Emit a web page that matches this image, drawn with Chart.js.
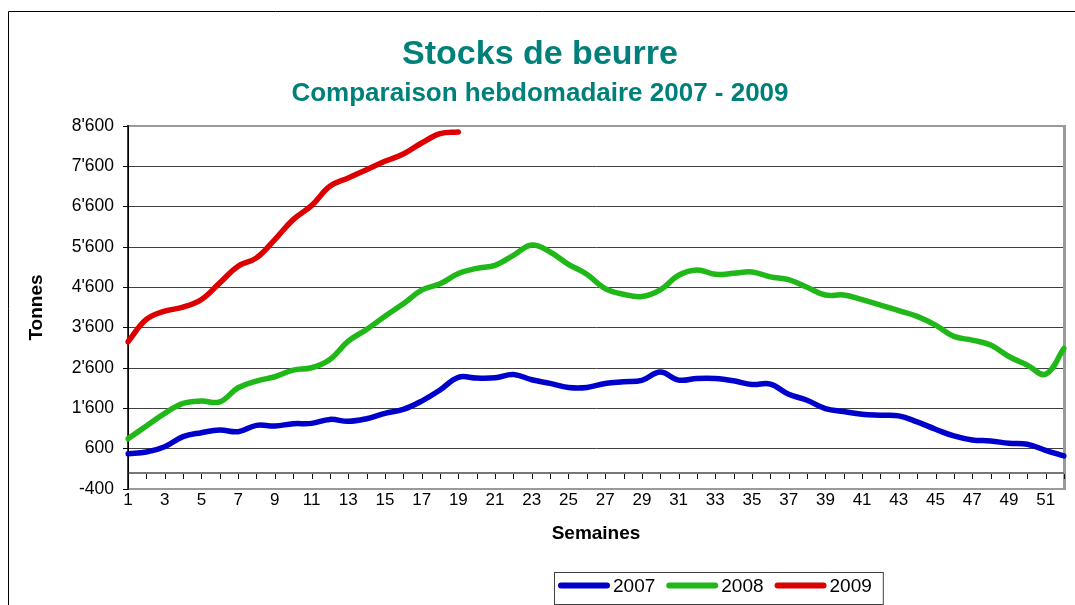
<!DOCTYPE html>
<html>
<head>
<meta charset="utf-8">
<script src="https://cdn.jsdelivr.net/npm/chart.js@4.4.1/dist/chart.umd.min.js"></script>
<style>
  html, body { margin: 0; padding: 0; background: #ffffff; }
  #wrap { width: 1075px; height: 605px; }
</style>
</head>
<body>
<div id="wrap"><canvas id="c" width="1075" height="605"></canvas></div>
<script>
// ---- Data ----
const weeks = ['1','2','3','4','5','6','7','8','9','10','11','12','13','14','15','16','17','18','19','20',
  '21','22','23','24','25','26','27','28','29','30','31','32','33','34','35','36','37','38','39','40',
  '41','42','43','44','45','46','47','48','49','50','51','52'];

const stock2007 = [476, 517, 649, 897, 996, 1062, 1021, 1178, 1161, 1219,
  1227, 1326, 1277, 1343, 1475, 1574, 1780, 2053, 2370, 2350,
  2358, 2440, 2308, 2218, 2119, 2119, 2218, 2259, 2292, 2500,
  2300, 2341, 2341, 2284, 2190, 2200, 1950, 1801, 1594, 1520,
  1454, 1429, 1412, 1263, 1081, 915, 816, 792, 733, 708,
  559, 419];

const stock2008 = [847, 1161, 1475, 1722, 1780, 1760, 2110, 2276, 2383, 2548,
  2606, 2812, 3266, 3555, 3885, 4191, 4529, 4686, 4942, 5070,
  5146, 5394, 5650, 5476, 5171, 4924, 4569, 4429, 4371, 4536,
  4899, 5031, 4924, 4948, 4981, 4860, 4790, 4600, 4410, 4410,
  4294, 4161, 4020, 3880, 3664, 3383, 3292, 3168, 2886, 2671,
  2447, 3085];

const stock2009 = [3250, 3803, 4009, 4108, 4298, 4711, 5123, 5330, 5784, 6279,
  6626, 7105, 7311, 7517, 7724, 7905, 8178, 8409, 8450];

const seriesLabels = ['2007', '2008', '2009'];
const yTickValues = [-400, 600, 1600, 2600, 3600, 4600, 5600, 6600, 7600, 8600];

const titleText = 'Stocks de beurre';
const subtitleText = 'Comparaison hebdomadaire 2007 - 2009';
const xTitle = 'Semaines';
const yTitle = 'Tonnes';

// ---- Styles ----
const FONT = "'Liberation Sans', Arial, Helvetica, sans-serif";
const TEAL = '#00807b';
const COLORS = ['#0000cc', '#20b818', '#dd0000'];

Chart.defaults.font.family = FONT;
Chart.defaults.color = '#000';

function fmtTonnes(v) {
  const neg = v < 0;
  let s = String(Math.abs(Math.round(v)));
  s = s.replace(/\B(?=(\d{3})+(?!\d))/g, "'");
  return (neg ? '-' : '') + s;
}

const bgPlugin = {
  id: 'bg',
  beforeDraw(chart) {
    const ctx = chart.ctx;
    ctx.save();
    ctx.fillStyle = '#ffffff';
    ctx.fillRect(0, 0, chart.width, chart.height);
    ctx.strokeStyle = '#000000';
    ctx.lineWidth = 1;
    ctx.beginPath();
    ctx.moveTo(8.5, chart.height + 2);
    ctx.lineTo(8.5, 11.5);
    ctx.lineTo(chart.width + 2, 11.5);
    ctx.stroke();
    ctx.restore();
  }
};

const axisPlugin = {
  id: 'plotFrame',
  beforeDatasetsDraw(chart) {
    const ctx = chart.ctx;
    const a = chart.chartArea;
    const xs = chart.scales.x, ys = chart.scales.y;
    ctx.save();
    ctx.strokeStyle = '#9a9a9a';
    ctx.lineWidth = 2;
    ctx.beginPath();
    ctx.moveTo(a.left, a.top);
    ctx.lineTo(a.right, a.top);
    ctx.stroke();
    ctx.beginPath();
    ctx.moveTo(a.left, a.bottom);
    ctx.lineTo(a.right, a.bottom);
    ctx.stroke();
    ctx.lineWidth = 3;
    ctx.beginPath();
    ctx.moveTo(a.right + 0.5, a.top - 1);
    ctx.lineTo(a.right + 0.5, a.bottom + 1);
    ctx.stroke();
    const y0 = Math.round(ys.getPixelForValue(0));
    ctx.strokeStyle = '#777777';
    ctx.lineWidth = 2;
    ctx.beginPath();
    ctx.moveTo(a.left, y0);
    ctx.lineTo(a.right, y0);
    ctx.stroke();
    ctx.strokeStyle = '#111111';
    ctx.lineWidth = 1;
    ctx.beginPath();
    for (let i = 0; i < weeks.length; i++) {
      const px = Math.round(xs.getPixelForValue(i)) + 0.5;
      ctx.moveTo(px, y0 + 1);
      ctx.lineTo(px, y0 + 6);
    }
    ctx.stroke();
    ctx.strokeStyle = '#000';
    ctx.lineWidth = 1.5;
    ctx.beginPath();
    ctx.moveTo(a.left, a.top - 1);
    ctx.lineTo(a.left, a.bottom + 1);
    ctx.stroke();
    ctx.restore();
  }
};

const legendPlugin = {
  id: 'boxLegend',
  afterDraw(chart) {
    const ctx = chart.ctx;
    ctx.save();
    ctx.font = '19px ' + FONT;
    ctx.textBaseline = 'middle';
    ctx.textAlign = 'left';
    const boxLeft = 554, boxTop = 572, boxH = 32, cy = 586;
    let cursor = boxLeft + 4;
    chart.data.datasets.forEach((ds) => {
      ctx.strokeStyle = ds.borderColor;
      ctx.lineWidth = 6;
      ctx.lineCap = 'round';
      ctx.beginPath();
      ctx.moveTo(cursor + 3, cy - 0.5);
      ctx.lineTo(cursor + 49, cy - 0.5);
      ctx.stroke();
      const tx = cursor + 55;
      ctx.fillStyle = '#000';
      ctx.fillText(ds.label, tx, cy + 1);
      cursor = tx + ctx.measureText(ds.label).width + 11;
    });
    ctx.strokeStyle = '#404040';
    ctx.lineWidth = 1;
    ctx.strokeRect(boxLeft + 0.5, boxTop + 0.5, cursor - boxLeft, boxH);
    ctx.restore();
  }
};

const ctx = document.getElementById('c').getContext('2d');
const datasets = [stock2007, stock2008, stock2009].map((arr, i) => ({
  label: seriesLabels[i],
  data: arr,
  borderColor: COLORS[i],
  backgroundColor: COLORS[i],
  borderWidth: 5.5,
  borderCapStyle: 'round',
  borderJoinStyle: 'round',
  pointRadius: 0,
  pointHoverRadius: 0,
  tension: 0.4,
  fill: false
}));

new Chart(ctx, {
  type: 'line',
  data: { labels: weeks, datasets: datasets },
  options: {
    responsive: false,
    animation: false,
    devicePixelRatio: 1,
    layout: { padding: { left: 16, right: 11, top: 0, bottom: 0 } },
    plugins: {
      legend: { display: false },
      tooltip: { enabled: false },
      title: {
        display: true, text: titleText, color: TEAL,
        font: { family: FONT, size: 34, weight: 'bold' },
        padding: { top: 34, bottom: 0 }
      },
      subtitle: {
        display: true, text: subtitleText, color: TEAL,
        font: { family: FONT, size: 26, weight: 'bold' },
        padding: { top: 3, bottom: 17 }
      }
    },
    scales: {
      x: {
        type: 'category',
        offset: false,
        grid: { display: false, drawTicks: false },
        border: { display: false },
        ticks: {
          autoSkip: false, maxRotation: 0, minRotation: 0, padding: 1,
          color: '#000', font: { size: 17 },
          callback: (v, i) => (i % 2 === 0 ? weeks[i] : '')
        },
        title: {
          display: true, text: xTitle, color: '#000',
          font: { size: 19, weight: 'bold' },
          padding: { top: 0, bottom: 60 }
        },
        afterFit: (s) => { s.height = 116; }
      },
      y: {
        min: -400, max: 8600,
        afterBuildTicks: (s) => { s.ticks = yTickValues.map(v => ({ value: v })); },
        grid: { color: '#404040', lineWidth: 1, tickLength: 5, tickColor: '#000' },
        border: { display: true, color: '#000', width: 1 },
        ticks: { padding: 9, color: '#000', font: { size: 17.5 }, callback: (v) => fmtTonnes(v) },
        title: {
          display: true, text: yTitle, color: '#000',
          font: { size: 19, weight: 'bold' },
          padding: { top: 9, bottom: 0 }
        },
        afterFit: (s) => { s.width = 112; }
      }
    }
  },
  plugins: [bgPlugin, axisPlugin, legendPlugin]
});
</script>
</body>
</html>
